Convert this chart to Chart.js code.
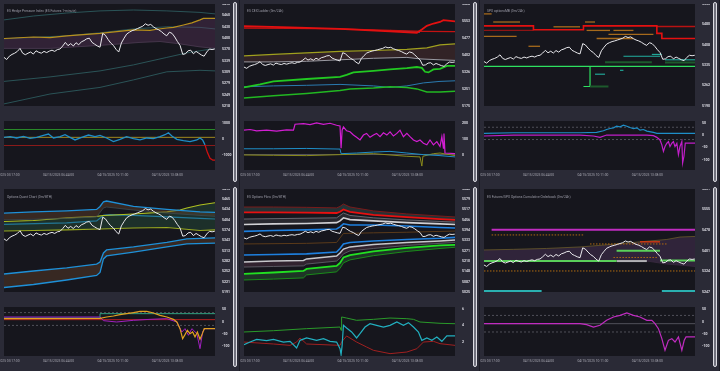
<!DOCTYPE html>
<html>
<head>
<meta charset="utf-8">
<script src="https://cdn.jsdelivr.net/npm/chart.js@4.4.1/dist/chart.umd.min.js"></script>
<style>
html, body { margin: 0; padding: 0; background: #1c1c25; }
#board { position: relative; width: 720px; height: 371px; overflow: hidden; background: #1c1c25; font-family: Roboto, "DejaVu Sans", sans-serif; }
.panel { position: absolute; width: 239px; background: #2a2a36; overflow: hidden; border-right: 1px solid #1c1c25; }
.panel canvas { position: absolute; }
.title { position: absolute; left: 7px; font-size: 6px; color: #9c9ca8; transform: scale(0.55); transform-origin: 0 0; white-space: nowrap; }
.scroll { position: absolute; left: 233px; top: 2px; width: 2px; height: 178px; border: 1px solid #dcdce2; border-radius: 2px; background: #70707c; }
</style>
</head>
<body>
<div id="board"></div>
<script>
// time axis: minutes after 03:17
var X_MAX = 802;
var X_TICKS = [0, 207, 414, 621];
var START_MIN = 3 * 60 + 17;
var DATE_LABEL = '04/15/2025';
var FONT = 'Roboto, "DejaVu Sans", sans-serif';

var TITLES = [
  'ES Hedge Pressure Index (ES Futures 1-minute)',
  'ES CEX Ladder (0m/24h)',
  'SPX optionsMB (0m/24h)',
  'Options Quant Chart (0m/8TH)',
  'ES Options Flow (0m/8TH)',
  'ES Futures/SPX Options Cumulative Orderbook (0m/24h)'
];

// ES price, one sample every ~10 minutes
var PRICE_STEP_MIN = 10.14;
var PRICE = [
  5348, 5342.4, 5351.2, 5356, 5359.2, 5364, 5372, 5359.2, 5355.2, 5359.2,
  5362.4, 5356.8, 5365.6, 5361.6, 5359.2, 5364, 5360.8, 5364.8, 5367.2, 5364,
  5368.8, 5370.4, 5378.4, 5388, 5379.2, 5384.8, 5378.4, 5387.2, 5381.6, 5389.6,
  5392.8, 5397.6, 5399.2, 5388, 5383.2, 5378.4, 5375.2, 5412, 5407.2, 5396,
  5386.4, 5380, 5369.6, 5362.4, 5386.4, 5399.2, 5410.4, 5415.2, 5419.2, 5421.6,
  5424.8, 5428, 5431.2, 5437.6, 5433.6, 5436, 5429.6, 5424.8, 5421.6, 5416.8,
  5410.4, 5405.6, 5415.2, 5412, 5402.4, 5390.4, 5380, 5356, 5357.6, 5365.6,
  5367.2, 5357.6, 5364, 5359.2, 5354.4, 5351.2, 5362.4, 5370.4, 5368.8, 5370.4
];

// ---- panel 1: hedge pressure ----
var P1_GOLD = [[0,5398.4],[112,5402.4],[175,5401],[238,5405.6],[365,5412],[492,5421.6],[555,5420],[581,5423],[619,5426.4],[644,5428],[682,5434.4],[714,5440],[745,5448],[758,5452],[802,5452]];
var P1_BAND_LOW = [[0,5372],[175,5372],[365,5380],[517,5388],[593,5390.4],[669,5384],[745,5376],[802,5372]];
var P1_TEAL_A = [[0,5448],[112,5458.4],[238,5466.4],[365,5472],[492,5474.4],[619,5472],[745,5468],[802,5464]];
var P1_TEAL_B = [[0,5397.6],[238,5405.6],[365,5413.6],[492,5424],[619,5429.6],[745,5428],[802,5424]];
var P1_TEAL_C = [[0,5284],[175,5296],[365,5312],[492,5328],[619,5348],[695,5360],[802,5372]];
var P1_TEAL_D = [[0,5224],[175,5250.4],[365,5268],[492,5288],[619,5309.6],[745,5313.6],[802,5312]];
var P1_HPI = [[0,100],[23,140],[48,60],[74,160],[99,40],[124,100],[150,220],[169,300],[188,60],[213,140],[232,260],[251,100],[270,-60],[295,100],[321,240],[346,140],[365,220],[390,60],[416,-160],[441,-20],[466,140],[492,20],[517,-60],[543,60],[568,20],[593,140],[612,260],[625,380],[638,180],[657,-20],[682,-100],[707,-160],[733,-60],[745,60],[755,-60],[764,-360],[773,-820],[783,-1180],[794,-1300],[802,-1300]];
var P1_LEVELS = [580, 100, -400];

// ---- panel 2: CEX ladder ----
var P2_RED_A = [[0,5529.6],[175,5524.3],[365,5517.6],[555,5507],[657,5500.3],[676,5515],[695,5531],[720,5541.6],[745,5548.3],[758,5556.3],[802,5551]];
var P2_RED_B = [[0,5521.6],[175,5520.3],[365,5517.6],[492,5513.6],[619,5508.3],[682,5507],[802,5505.6]];
var P2_BLUE_TOP = [[555,5511],[669,5503]];
var P2_OLIVE = [[0,5397.6],[112,5404.3],[238,5411],[365,5417.6],[492,5421.6],[619,5427],[695,5433.6],[745,5447],[802,5451]];
var P2_GREY = [[0,5371],[112,5371],[238,5373.6],[365,5380.3],[492,5387],[619,5391],[669,5384.3],[745,5380.3],[802,5377.6]];
var P2_GREEN_A = [[0,5257.6],[61,5271],[112,5284.3],[238,5295],[365,5304.3],[390,5313.6],[416,5324.3],[492,5331],[555,5337.6],[619,5343],[657,5348.3],[676,5344.3],[688,5327],[701,5324.3],[720,5337.6],[745,5340.3],[771,5353.6],[802,5353.6]];
var P2_GREEN_B = [[0,5211],[112,5220.3],[238,5231],[365,5244.3],[403,5251],[492,5255],[555,5260.3],[619,5257.6],[657,5251],[695,5237.6],[745,5237.6],[802,5240.3]];
var P2_BLUE = [[0,5260.3],[112,5264.3],[238,5267],[365,5271],[492,5264.3],[555,5257.6],[619,5264.3],[682,5277.6],[745,5284.3],[802,5287]];
var P2_MAG = [[0,155.4],[23,159.5],[48,151.4],[86,155.4],[124,149.4],[162,157.5],[188,155.4],[194,191.8],[226,195.8],[251,189.8],[276,199.9],[302,191.8],[327,197.9],[352,185.7],[365,181.7],[369,44.3],[373,155.4],[378,175.6],[390,151.4],[403,145.3],[416,125.1],[428,111],[441,94.8],[454,125.1],[466,135.2],[479,111],[492,125.1],[504,135.2],[517,115],[530,139.3],[543,125.1],[555,145.3],[568,119.1],[581,135.2],[593,155.4],[606,115],[619,135.2],[631,115],[644,94.8],[657,84.7],[669,94.8],[682,74.6],[695,64.5],[707,94.8],[720,64.5],[733,84.7],[745,54.4],[752,115],[758,44.3],[760,135.2],[764,14],[802,10]];
var P2_BLUE_S = [[0,40.3],[112,40.3],[238,42.3],[365,38.3],[369,10],[428,14],[492,20.1],[555,24.1],[619,14],[682,3.9],[745,-2.1],[802,-10]];
var P2_OLIVE_S = [[0,1.9],[112,-0.1],[238,-2.1],[365,4],[492,10],[619,-6.2],[669,-10.2],[676,-66.8],[680,-6.2],[720,10],[745,14],[802,-2.1]];
var P2_SUB_LEVEL = 5;

// ---- panel 3: SPX options levels ----
var P3_RED_STEP = [[0,5475.1],[188,5461.2],[378,5475.1],[657,5448.4],[676,5430.2],[802,5430.2]];
var P3_RED_SEGS = [[657,802,5473]];
var P3_DARKRED_SEGS = [[0,188,5459]];
var P3_ORANGE_SEGS = [[0,29,5517.9],[35,137,5489],[169,213,5402.4],[264,365,5471.9],[384,422,5489],[390,479,5459],[428,568,5430.2],[473,644,5445.1],[492,568,5459],[0,124,5437.7]];
var P3_TEAL_SEGS = [[530,669,5367.1],[688,802,5354.2],[422,460,5302.9],[517,530,5316.8],[638,676,5373.5]];
var P3_DKGREEN_SEGS = [[460,638,5345.7],[688,802,5344.6],[403,473,5259.1]];
var P3_GREEN_LEVEL = [[0,5330.7],[802,5330.7]];
var P3_GREEN_HOOK = [[378,5259.1],[403,5259.1],[403,5330.7]];
var P3_BLUE_S = [[0,7.3],[112,10],[238,10],[365,10],[428,11.3],[454,18],[466,23.3],[479,27.3],[492,30],[504,36.7],[517,34],[530,40.7],[543,36.7],[555,31.3],[568,27.3],[581,30],[593,20.7],[606,23.3],[619,16.7],[644,11.3],[657,7.3],[802,7.3]];
var P3_MAG_S = [[0,-3.3],[112,0.7],[238,0.7],[365,0.7],[416,-3.3],[441,-8.7],[466,0.7],[619,0.7],[644,-2],[657,-8.7],[669,-19.3],[676,-39.3],[682,-66],[688,-46],[695,-32.7],[701,-26],[707,-46],[714,-32.7],[720,-26],[726,-46],[733,-32.7],[739,-79.3],[745,-46],[752,-26],[755,-112.7],[760,-86],[765,-32.7],[802,-32.7]];
var P3_SUB_DASH = [32.7, -18];

// ---- panel 4: quant bands ----
var P4_B1 = [[0,5424.3],[112,5427.8],[238,5430.5],[352,5434.9],[365,5443.8],[378,5457.1],[390,5459.8],[492,5443.8],[619,5434.9],[745,5427.8],[802,5426.1]];
var P4_TOP_LOW = [[0,5403.9],[238,5408.3],[352,5412.8],[378,5439.4],[390,5442],[492,5433.2],[619,5424.3],[745,5417.2],[802,5414.5]];
var P4_Y1 = [[0,5399.5],[112,5402.1],[238,5410.1],[352,5414.5],[378,5417.2],[492,5421.6],[619,5427.8],[669,5433.2],[695,5439.4],[745,5448.2],[802,5454.5]];
var P4_Y2 = [[0,5371.1],[112,5372.9],[238,5374.6],[365,5377.3],[492,5380],[619,5381.7],[682,5377.3],[745,5372.9],[802,5374.6]];
var P4_B3 = [[0,5390.6],[238,5395],[352,5401.2],[378,5417.2],[403,5419],[492,5417.2],[619,5412.8],[745,5408.3],[802,5406.6]];
var P4_BL1 = [[0,5244.2],[112,5253.1],[238,5262],[352,5273.5],[365,5279.7],[378,5306.3],[390,5315.2],[492,5324.1],[619,5337.4],[695,5348],[802,5350.7]];
var P4_BL2 = [[0,5204.3],[112,5213.2],[238,5226.5],[352,5239.8],[365,5248.7],[378,5288.6],[390,5297.5],[492,5309],[619,5324.1],[695,5333],[802,5335.6]];
var P4_ORANGE_S = [[0,12.2],[365,13.6],[390,19],[416,23],[441,28.4],[466,32.5],[492,36.5],[517,41.9],[543,41.9],[568,35.2],[593,25.7],[619,19],[644,9.5],[657,-1.3],[669,-28.3],[679,-68.8],[688,-52.6],[697,-35],[707,-48.5],[717,-41.7],[726,-62],[735,-41.7],[745,-71.5],[754,-48.5],[761,-28.3],[802,-28.3]];
var P4_MAG_S = [[0,19],[365,19],[378,4.1],[428,-1.3],[492,5.5],[555,9.5],[619,12.2],[657,-1.3],[676,-41.8],[688,-28.3],[701,-55.3],[714,-28.3],[733,-48.5],[745,-109.4],[755,-41.8],[764,-28.3],[802,-28.3]];
var P4_SUB_STEP = [[0,14.9],[365,14.9],[365,32.5],[802,32.5]];
var P4_SUB_RED = 8.2;
var P4_SUB_DASH = [36.5, -14.8];

// ---- panel 5: options flow ----
var P5_R0 = [[0,5532.7],[112,5532.7],[238,5530.9],[352,5527.3],[365,5536.2],[378,5550.6],[403,5532.7],[492,5509.3],[619,5491.4],[745,5478.8],[802,5473.5]];
var P5_R1 = [[0,5500.4],[112,5500.4],[238,5498.6],[352,5496.8],[365,5504],[378,5518.3],[403,5504],[492,5486],[619,5471.7],[745,5460.9],[802,5455.5]];
var P5_W0 = [[0,5460.9],[352,5468.1],[378,5496.8],[403,5482.4],[492,5468.1],[619,5455.5],[745,5446.6],[802,5443]];
var P5_W1 = [[0,5428.6],[112,5432.2],[238,5434],[352,5439.4],[365,5450.1],[378,5468.1],[403,5457.3],[492,5450.1],[619,5439.4],[745,5432.2],[802,5428.6]];
var P5_B1 = [[0,5387.4],[112,5392.7],[238,5396.3],[352,5401.7],[365,5414.3],[378,5432.2],[403,5425],[492,5425],[619,5419.7],[745,5410.7],[802,5407.1]];
var P5_BR = [[0,5312],[238,5315.6],[352,5321],[378,5374.8],[492,5378.4],[619,5382],[802,5389.2]];
var P5_B2 = [[0,5245.7],[112,5249.3],[238,5252.8],[352,5263.6],[365,5285.1],[378,5312],[403,5321],[492,5330],[619,5339],[745,5346.1],[802,5351.5]];
var P5_W2 = [[0,5204.4],[112,5209.8],[226,5213.4],[238,5222.3],[352,5240.3],[365,5258.2],[378,5281.5],[403,5294.1],[492,5308.4],[619,5321],[745,5330],[802,5335.3]];
var P5_W3 = [[0,5173.9],[112,5177.5],[226,5181.1],[238,5191.8],[352,5209.8],[365,5227.7],[378,5252.8],[403,5270.8],[492,5285.1],[619,5303.1],[745,5315.6],[802,5321]];
var P5_G1 = [[0,5132.7],[112,5141.6],[226,5150.6],[238,5163.1],[352,5181.1],[365,5199],[378,5231.3],[403,5245.7],[492,5267.2],[619,5288.7],[745,5303.1],[802,5306.7]];
var P5_G2 = [[0,5096.8],[112,5102.2],[226,5109.3],[238,5127.3],[352,5145.2],[365,5166.7],[378,5199],[403,5217],[492,5242.1],[619,5267.2],[745,5285.1],[802,5292.3]];
var P5_GREEN_S = [[0,3.21],[112,3.37],[238,3.62],[365,3.82],[369,3.41],[371,5.06],[390,4.93],[428,4.65],[492,4.77],[555,4.93],[619,4.85],[644,4.77],[669,4.44],[745,4.28],[802,4.23]];
var P5_TEAL_S = [[0,1.65],[23,1.97],[48,2.30],[86,2.14],[112,2.30],[150,1.97],[175,2.06],[200,1.24],[213,2.18],[238,2.47],[276,2.18],[302,2.39],[327,2.06],[352,1.97],[365,1.15],[369,0.41],[373,1.56],[378,4.03],[390,3.7],[409,3.21],[428,2.47],[441,3.0],[460,3.82],[479,4.23],[504,4.03],[530,3.82],[555,4.03],[581,4.44],[606,4.03],[625,4.36],[644,3.82],[663,3.21],[676,2.18],[695,2.47],[714,2.18],[733,2.59],[752,2.06],[771,2.72],[802,2.72]];
var P5_RED_S = [[0,1.97],[112,1.73],[175,1.56],[200,1.97],[213,2.47],[238,1.73],[365,1.56],[371,1.97],[390,2.72],[428,1.97],[466,1.36],[492,0.95],[555,0.54],[619,0.74],[657,1.15],[682,1.97],[720,2.06],[745,1.77],[802,1.56]];

// ---- panel 6: cumulative orderbook ----
var P6_BAND_UP = [[0,5404],[112,5406.3],[238,5409.6],[365,5415.2],[492,5425.3],[619,5436.5],[695,5443.2],[745,5452.2],[802,5454.4]];
var P6_BAND_LOW = [[0,5359.2],[238,5361.4],[365,5363.7],[492,5365.9],[619,5362.6],[695,5351.4],[802,5342.4]];
var P6_MAGENTA_SEGS = [[29,802,5479.1]];
var P6_ORANGE_SEGS = [[29,378,5460],[0,802,5325.6],[403,695,5426.4],[492,657,5376]];
var P6_RED_SEGS = [[593,669,5434.3]];
var P6_GREEN_SEGS = [[0,504,5362.6],[504,669,5400.7],[669,802,5364.8]];
var P6_GREY_SEGS = [[504,619,5362.6]];
var P6_TEAL_SEGS = [[0,219,5250.5],[676,802,5250.5]];
var P6_MAG_S = [[0,-8.1],[365,-8.1],[390,-12.1],[416,-21.6],[441,-14.8],[466,5.5],[492,19],[517,25.7],[543,35.2],[568,25.7],[593,19],[619,5.5],[638,5.5],[650,-8.1],[663,-28.3],[676,-68.8],[688,-116.1],[701,-75.6],[714,-68.8],[726,-82.4],[739,-62],[752,-116.1],[761,-75.6],[768,-62],[802,-62]];
var P6_SUB_DASH = [25.7, -41.8];
var P6_SUB_ZERO = -8.1;

// y ranges and tick labels
var MAIN_Y = [
  { min: 5218.4, max: 5490.4, count: 10 },
  { min: 5175, max: 5628.3, count: 7 },
  { min: 5189.5, max: 5553.2, count: 6 },
  { min: 5191, max: 5495.3, count: 11 },
  { min: 5025, max: 5640.3, count: 11 },
  { min: 5247.2, max: 5631.4, count: 6 }
];
var SUB_Y = [
  { min: -1900, max: 1100, ticks: [1000, 0, -1000] },
  { min: -91, max: 212, ticks: [200, 100, 0] },
  { min: -142, max: 58, ticks: [50, 0, -50, -100] },
  { min: -139.2, max: 59.5, ticks: [50, 0, -50, -100] },
  { min: 0.25, max: 6.29, ticks: [6, 4, 2] },
  { min: -139.2, max: 59.5, ticks: [50, 0, -50, -100] }
];

function pts(a) { return a.map(function (p) { return { x: p[0], y: p[1] }; }); }
function ln(a, color, w, extra) {
  var d = { data: pts(a), borderColor: color, borderWidth: w, pointRadius: 0, fill: false };
  if (extra) for (var k in extra) d[k] = extra[k];
  return d;
}
function level(v, color, w, extra) { return ln([[0, v], [X_MAX, v]], color, w, extra); }
function segs(list, color, w, extra) {
  return list.map(function (s) { return ln([[s[0], s[2]], [s[1], s[2]]], color, w, extra); });
}
function priceLine() {
  return ln(PRICE.map(function (v, i) { return [i * PRICE_STEP_MIN, v]; }), '#e8e8ec', 1);
}
function pad(n) { return (n < 10 ? '0' : '') + n; }
function fmtTime(v) {
  var m = START_MIN + Math.round(v);
  return DATE_LABEL + ' ' + pad(Math.floor(m / 60)) + ':' + pad(m % 60) + ':00';
}

var plotBg = {
  id: 'plotBg',
  beforeDraw: function (c) {
    var a = c.chartArea, ctx = c.ctx;
    ctx.save();
    ctx.fillStyle = '#16161d';
    ctx.fillRect(a.left, a.top, a.right - a.left, a.bottom - a.top);
    ctx.restore();
  }
};

function makeChart(canvas, datasets, y, sub) {
  var xs = {
    type: 'linear', min: 0, max: X_MAX, display: !!sub,
    grid: { display: false, drawTicks: false }, border: { display: false },
    ticks: { autoSkip: false, maxRotation: 0, padding: 3,
      color: '#a6a6b0', font: { size: 3.3, family: FONT }, callback: fmtTime },
    afterBuildTicks: function (s) { s.ticks = X_TICKS.map(function (v) { return { value: v }; }); },
    afterFit: function (s) { s.height = 11; s.paddingLeft = 0; s.paddingRight = 0; }
  };
  var ys = {
    type: 'linear', position: 'right', min: y.min, max: y.max,
    grid: { display: false, drawTicks: false }, border: { display: false },
    ticks: { color: '#dcdce4', padding: 7, font: { size: 3.5, family: FONT, weight: 'bold' },
      callback: function (v) { return Math.round(v); } },
    afterFit: function (s) { s.width = 17; s.paddingTop = 0; s.paddingBottom = 0; }
  };
  if (y.count) ys.ticks.count = y.count;
  if (y.ticks) ys.afterBuildTicks = function (s) { s.ticks = y.ticks.map(function (v) { return { value: v }; }); };
  return new Chart(canvas, {
    type: 'line',
    data: { datasets: datasets },
    options: {
      animation: false, responsive: false,
      layout: { padding: { left: sub ? 4 : 0, top: 0, right: 0, bottom: 0 } },
      plugins: { legend: { display: false }, tooltip: { enabled: false } },
      elements: { line: { tension: 0 } },
      scales: { x: xs, y: ys }
    },
    plugins: [plotBg]
  });
}

var DASH = { borderDash: [2, 2] };

var MAIN_SETS = [
  [priceLine(), ln(P1_GOLD, '#b8901c', 1.2),
    ln(P1_BAND_LOW, '#4b3b52', 0.8, { fill: '-1', backgroundColor: 'rgba(95,55,95,0.38)' }),
    ln(P1_TEAL_A, '#2c5a5e', 0.9), ln(P1_TEAL_B, '#2c5a5e', 0.9), ln(P1_TEAL_C, '#2c5a5e', 0.9), ln(P1_TEAL_D, '#2c5a5e', 0.9)],
  [priceLine(), ln(P2_RED_A, '#e41010', 1.8), ln(P2_RED_B, '#c41212', 1.3), ln(P2_BLUE_TOP, '#2a7ab0', 1),
    ln(P2_OLIVE, '#a0a01e', 1.2), ln(P2_GREY, '#9a9aa2', 1, { fill: '-1', backgroundColor: 'rgba(85,52,52,0.45)' }),
    ln(P2_GREEN_A, '#22c822', 1.8), ln(P2_GREEN_B, '#22b822', 1.5), ln(P2_BLUE, '#2a7ab0', 1)],
  [priceLine(), ln(P3_RED_STEP, '#e41010', 1.6, { stepped: true })]
    .concat(segs(P3_RED_SEGS, '#b81212', 1.4), segs(P3_DARKRED_SEGS, '#8c1414', 1.4),
      segs(P3_ORANGE_SEGS, '#a66a1c', 1.3), segs(P3_TEAL_SEGS, '#22b0a0', 1.1),
      segs(P3_DKGREEN_SEGS, '#1d5a2c', 2),
      [ln(P3_GREEN_LEVEL, '#2ee060', 1.2), ln(P3_GREEN_HOOK, '#2ee060', 1.2)]),
  [priceLine(), ln(P4_B1, '#1e90d8', 1.3),
    ln(P4_TOP_LOW, '#3a4a50', 0.8, { fill: '-1', backgroundColor: 'rgba(95,62,42,0.45)' }),
    ln(P4_Y1, '#b0c020', 1.1), ln(P4_Y2, '#98a820', 1.1, { fill: '-1', backgroundColor: 'rgba(40,85,62,0.42)' }),
    ln(P4_B3, '#1e90d8', 1.2), ln(P4_BL1, '#1e90d8', 1.3),
    ln(P4_BL2, '#1e90d8', 1.3, { fill: '-1', backgroundColor: 'rgba(95,62,42,0.45)' })],
  [priceLine(), ln(P5_R0, '#7a1a1a', 1),
    ln(P5_R1, '#e81010', 1.8, { fill: '-1', backgroundColor: 'rgba(50,78,78,0.5)' }),
    ln(P5_W0, '#77777f', 0.8), ln(P5_W1, '#d0d0d4', 1.6, { fill: '-1', backgroundColor: 'rgba(62,62,72,0.45)' }),
    ln(P5_B1, '#1e80e0', 1.6), ln(P5_BR, '#5a3a1a', 1), ln(P5_B2, '#1e80e0', 1.6),
    ln(P5_W2, '#c8c8cc', 1.4), ln(P5_W3, '#66666e', 0.8, { fill: '-1', backgroundColor: 'rgba(82,50,72,0.45)' }),
    ln(P5_G1, '#22e022', 1.8), ln(P5_G2, '#1a8a1a', 1, { fill: '-1', backgroundColor: 'rgba(40,92,50,0.45)' })],
  [priceLine()].concat(segs(P6_GREEN_SEGS, '#5ad05a', 2), segs(P6_GREY_SEGS, '#b0b0b4', 2),
      segs(P6_RED_SEGS, '#e03a10', 1.3), segs(P6_MAGENTA_SEGS, '#c02cc0', 2),
      segs(P6_ORANGE_SEGS, '#b06a10', 1, { borderDash: [1.5, 1.5] }), segs(P6_TEAL_SEGS, '#2ab0b0', 2),
      [ln(P6_BAND_UP, '#6a5a2a', 0.8),
        ln(P6_BAND_LOW, '#3a2a40', 0.8, { fill: '-1', backgroundColor: 'rgba(85,58,100,0.42)' })])
];

var SUB_SETS = [
  [ln(P1_HPI, '#1e8ec8', 1.3, { segment: { borderColor: function (c) {
      return (c.p0.parsed.y < P1_LEVELS[2] || c.p1.parsed.y < P1_LEVELS[2]) ? '#d01010' : '#1e8ec8'; } } }),
    level(P1_LEVELS[0], '#2a8a2a', 1), level(P1_LEVELS[1], '#a08a20', 1), level(P1_LEVELS[2], '#8a1a1a', 1)],
  [ln(P2_MAG, '#d21ed2', 1.2), ln(P2_BLUE_S, '#1e8ec8', 1), ln(P2_OLIVE_S, '#8a8a1a', 1), level(P2_SUB_LEVEL, '#55555e', 1)],
  [ln(P3_BLUE_S, '#1e8ec8', 1.2), ln(P3_MAG_S, '#c01ec8', 1.2),
    level(P3_SUB_DASH[0], '#5e5e68', 0.8, DASH), level(P3_SUB_DASH[1], '#5e5e68', 0.8, DASH)],
  [ln(P4_ORANGE_S, '#e0a020', 1.2), ln(P4_MAG_S, '#a020c0', 1), ln(P4_SUB_STEP, '#30a080', 1),
    level(P4_SUB_RED, '#b02020', 1), level(P4_SUB_DASH[0], '#5e5e68', 0.8, DASH), level(P4_SUB_DASH[1], '#5e5e68', 0.8, DASH)],
  [ln(P5_TEAL_S, '#22b0c0', 1.2), ln(P5_GREEN_S, '#2a9a2a', 1), ln(P5_RED_S, '#a02020', 1)],
  [ln(P6_MAG_S, '#c02cc0', 1.2), level(P6_SUB_ZERO, '#5e5e68', 0.8),
    level(P6_SUB_DASH[0], '#5e5e68', 0.8, DASH), level(P6_SUB_DASH[1], '#5e5e68', 0.8, DASH)]
];

var board = document.getElementById('board');
for (var i = 0; i < 6; i++) {
  var row = Math.floor(i / 3), col = i % 3;
  var panel = document.createElement('div');
  panel.className = 'panel';
  panel.style.left = (col * 240) + 'px';
  panel.style.top = (row * 185) + 'px';
  panel.style.height = (row ? 186 : 185) + 'px';
  board.appendChild(panel);

  var main = document.createElement('canvas');
  main.width = 228; main.height = row ? 114 : 113;
  main.style.left = '4px'; main.style.top = '4px';
  panel.appendChild(main);

  var sub = document.createElement('canvas');
  sub.width = 232; sub.height = 60;
  sub.style.left = '0px'; sub.style.top = (row ? 122 : 121) + 'px';
  panel.appendChild(sub);

  var t = document.createElement('div');
  t.className = 'title';
  t.style.top = (row ? 10 : 9) + 'px';
  t.textContent = TITLES[i];
  panel.appendChild(t);

  var sc = document.createElement('div');
  sc.className = 'scroll';
  panel.appendChild(sc);

  makeChart(main, MAIN_SETS[i], MAIN_Y[i], false);
  makeChart(sub, SUB_SETS[i], SUB_Y[i], true);
}
</script>
</body>
</html>
